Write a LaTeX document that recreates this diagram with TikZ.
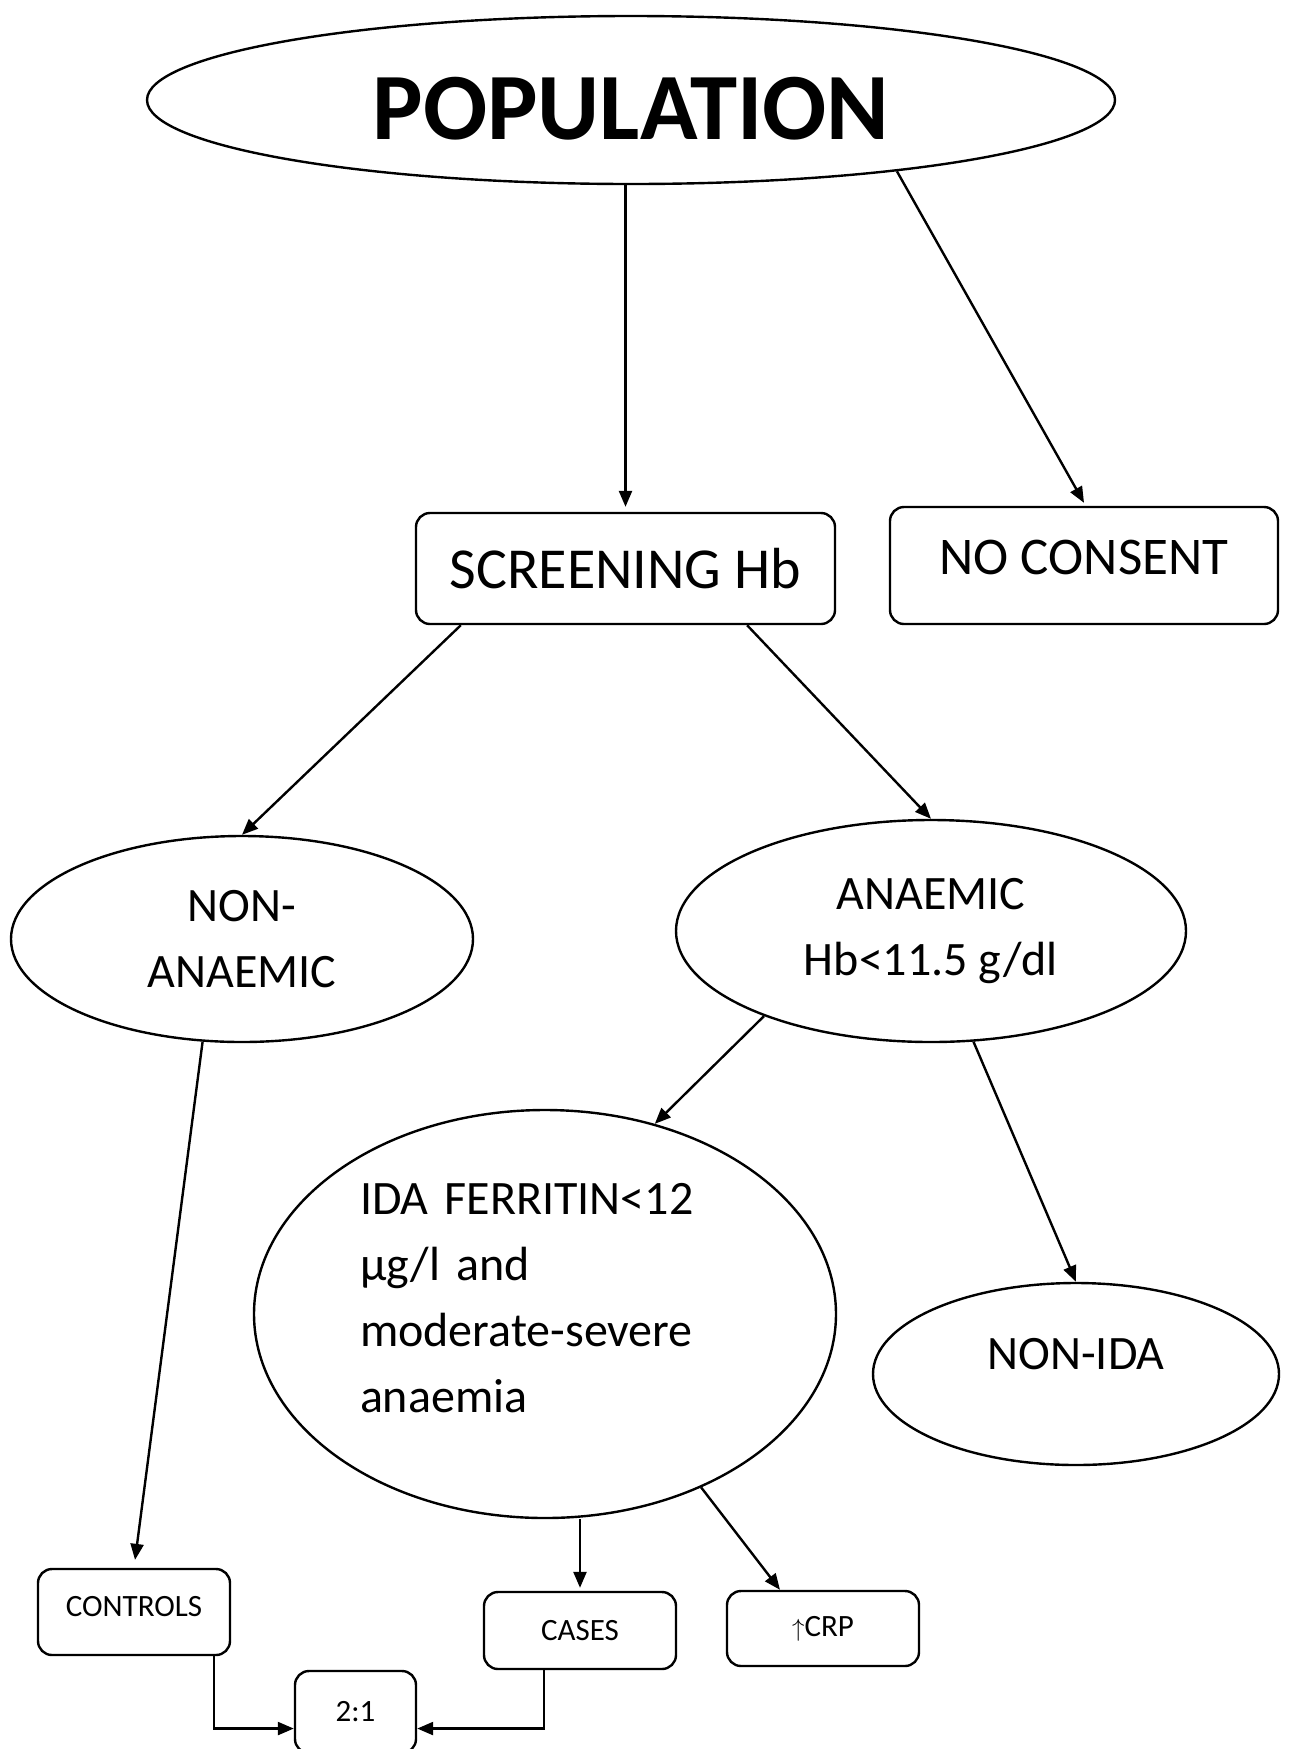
\documentclass[tikz,border=0pt]{standalone}
\usepackage{fontspec}
\setmainfont{Carlito}
\usetikzlibrary{shapes.geometric,arrows.meta}

\begin{document}
\begin{tikzpicture}[x=1pt,y=-1pt,line width=2.4pt,
  oval/.style={draw,ellipse,inner sep=0pt,align=center},
  box/.style={draw,rounded corners=14pt,inner sep=0pt,align=center},
  arr/.style={-{Triangle[length=16pt,width=13pt]}},
  big/.style={font=\fontsize{48}{66}\selectfont},
  small/.style={font=\fontsize{31}{38}\selectfont}]
        \useasboundingbox (0,0) rectangle (1289,1749);
        \node[oval,minimum width=968pt,minimum height=168pt,text height=80pt,font=\fontsize{95}{110}\selectfont\bfseries] (pop) at (631,100) {POPULATION};
        \node[box,minimum width=419pt,minimum height=111pt,font=\fontsize{58}{66}\selectfont] (scr) at (625.5,568.5) {SCREENING Hb};
        \node[box,minimum width=388pt,minimum height=117pt,text depth=16pt,font=\fontsize{53}{60}\selectfont] (nocon) at (1084,565.5) {NO CONSENT};
        \node[oval,big,minimum width=462pt,minimum height=206pt] (nonan) at (242,939) {NON-\\ANAEMIC};
        \node[oval,big,minimum width=510pt,minimum height=222pt] (anaem) at (931,931) {ANAEMIC\\Hb<11.5 g/dl};
        \node[oval,big,minimum width=582pt,minimum height=408pt,text width=370pt,align=left,text depth=230pt] (ida) at (545,1314) {IDA FERRITIN<12\\µg/l and\\moderate-severe\\anaemia};
        \node[oval,big,minimum width=406pt,minimum height=182pt,text depth=40pt] (nonida) at (1076,1374) {NON-IDA};
        \node[box,small,minimum width=192pt,minimum height=86pt,text depth=12pt] (controls) at (134,1612) {CONTROLS};
        \node[box,small,minimum width=192pt,minimum height=77pt] (cases) at (580,1630.5) {CASES};
        \node[box,small,minimum width=192pt,minimum height=75pt] (crp) at (823,1628.5) {$\uparrow$CRP};
        \node[box,small,minimum width=121pt,minimum height=82pt] (ratio) at (355.5,1712) {2:1};
        \draw[arr] (pop.south -| scr.north) -- ([yshift=5pt]scr.north);
        \draw[arr] (pop.-15) -- ([yshift=3pt]nocon.north);
        \draw[arr] (scr.-161) -- (nonan.north);
        \draw[arr] (scr.-25) -- (anaem.north);
        \draw[arr] (anaem.-153) -- (ida.60);
        \draw[arr] (anaem.-69) -- (nonida.north);
        \draw[arr,shorten >=8pt] (nonan.-111) -- (controls.north);
        \draw[arr] (ida.south -| cases.north) -- ([yshift=3pt]cases.north);
        \draw[arr] (ida.-48) -- (crp.138);
        \draw[arr] ([xshift=-17pt]controls.south east) |- (ratio.-165);
        \draw[arr] ([xshift=-36pt]cases.south) |- (ratio.-15);
\end{tikzpicture}
\end{document}
